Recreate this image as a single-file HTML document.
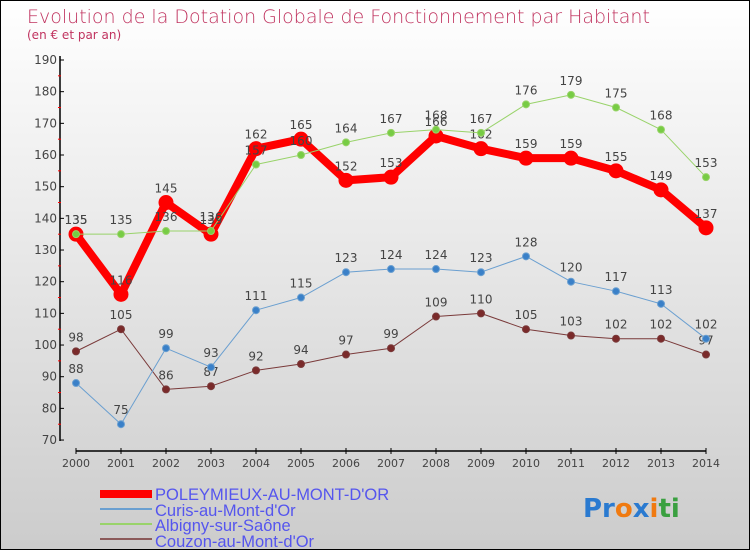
<!DOCTYPE html>
<html><head><meta charset="utf-8"><style>
body{margin:0}
#c{position:relative;width:748px;height:548px;border:1px solid #000;background:linear-gradient(#fff,#ccc);font-family:"DejaVu Sans","Liberation Sans",sans-serif;overflow:hidden}
</style></head><body>
<div id="c">
<svg id="s" width="748" height="548" xmlns="http://www.w3.org/2000/svg">
<text x="26" y="22" font-size="19" fill="#c0335f" font-weight="200">Evolution de la Dotation Globale de Fonctionnement par Habitant</text>
<text x="26" y="38" font-size="12" fill="#c0335f">(en € et par an)</text>
<g id="ax"></g><g id="marks"></g>
<g font-family="Liberation Sans, sans-serif">
<rect x="99" y="489" width="52" height="8" fill="#f00"/>
<text x="154" y="499" font-size="16.5" fill="#5555ee">POLEYMIEUX-AU-MONT-D'OR</text>
<rect x="99" y="507" width="52" height="2" fill="#6a9fd0"/>
<text x="154" y="515" font-size="16.5" fill="#5555ee">Curis-au-Mont-d'Or</text>
<rect x="99" y="522" width="52" height="2" fill="#99d36a"/>
<text x="154" y="530" font-size="16.5" fill="#5555ee">Albigny-sur-Saône</text>
<rect x="99" y="537" width="52" height="2" fill="#8b5a5a"/>
<text x="154" y="546" font-size="16.5" fill="#5555ee">Couzon-au-Mont-d'Or</text>
</g>
<text x="582" y="516" font-size="26" font-weight="bold"><tspan fill="#2a7ad0">Pr</tspan><tspan fill="#f07a10">o</tspan><tspan fill="#2a7ad0">x</tspan><tspan fill="#f07a10">i</tspan><tspan fill="#3aa040">ti</tspan></text>
</svg></div>
<script>
const years=[2000,2001,2002,2003,2004,2005,2006,2007,2008,2009,2010,2011,2012,2013,2014];
const yTicks=[70,80,90,100,110,120,130,140,150,160,170,180,190];
const poleymieux=[135,116,145,135,162,165,152,153,166,162,159,159,155,149,137];
const curis=[88,75,99,93,111,115,123,124,124,123,128,120,117,113,102];
const albigny=[135,135,136,136,157,160,164,167,168,167,176,179,175,168,153];
const couzon=[98,105,86,87,92,94,97,99,109,110,105,103,102,102,97];
const NS="http://www.w3.org/2000/svg";
const X=i=>75+i*45, Y=v=>59+(190-v)*3.167;
const ax=document.getElementById('ax'), mk=document.getElementById('marks');
function el(t,a,p){const e=document.createElementNS(NS,t);for(const k in a)e.setAttribute(k,a[k]);p.appendChild(e);return e;}
let l=el('line',{x1:59,y1:55,x2:59,y2:440,stroke:'#000','stroke-width':1.5},ax);

l=el('line',{x1:75,y1:450,x2:705,y2:450,stroke:'#000','stroke-width':1.5},ax);

yTicks.forEach((v,i)=>{
 el('line',{x1:59,y1:Y(v),x2:63,y2:Y(v),stroke:'#000'},ax);
 if(i<yTicks.length-1)el('line',{x1:57,y1:Y(v+5),x2:60,y2:Y(v+5),stroke:'#f00'},ax);
 const t=el('text',{x:56,y:Y(v)+4,'font-size':12,fill:'#444','text-anchor':'end'},ax);t.textContent=v;
 
});
years.forEach((y,i)=>{
 el('line',{x1:X(i),y1:447,x2:X(i),y2:453,stroke:'#000'},ax);
 const t=el('text',{x:X(i),y:466,'font-size':11,fill:'#444','text-anchor':'middle'},ax);t.textContent=y;
 
});
function series(name,d,col,w,r,fill){
 const g=el('g',{},mk);
 const p=el('polyline',{points:d.map((v,i)=>X(i)+','+Y(v)).join(' '),fill:'none',stroke:col,'stroke-width':w,'stroke-linejoin':'round'},g);
 
 d.forEach((v,i)=>{
  const c=el('circle',{cx:X(i),cy:Y(v),r:r,fill:fill,stroke:col,'stroke-width':1},g);
  
  const t=el('text',{x:X(i),y:Y(v)-10,'font-size':12,fill:'#444','text-anchor':'middle'},g);t.textContent=v;
  
 });
}
series('couzon',couzon,'#7a3a3a',1,3.5,'#7a2a2a');
series('curis',curis,'#6a9fd0',1,3.5,'#3a80c8');
series('poleymieux',poleymieux,'#f00',8,7,'#f00');
series('albigny',albigny,'#99d36a',1,3.5,'#77cc44');
</script>
</body></html>
